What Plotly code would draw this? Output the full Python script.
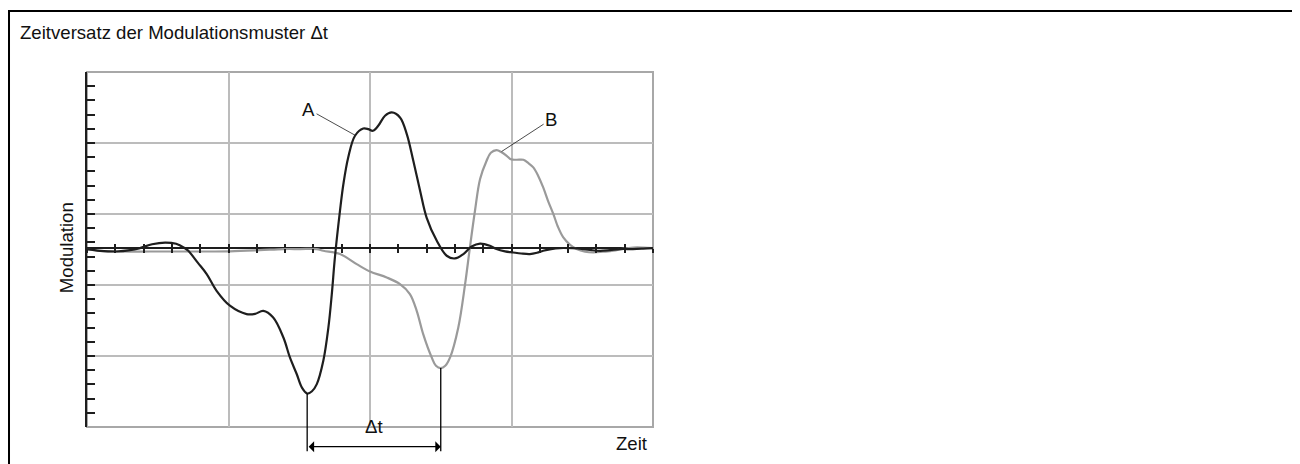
import plotly.graph_objects as go

# ---- data (time units: one minor tick = 1; modulation units: one minor tick = 1) ----
time_a = [0, 0.46, 1.05, 1.52, 1.87, 2.30, 2.76, 3.15, 3.45, 3.58, 3.92, 4.23, 4.58, 5.05, 5.64,
          5.94, 6.23, 6.58, 6.94, 7.17, 7.41, 7.60, 7.78, 7.95, 8.12, 8.35, 8.53, 8.65, 8.76, 8.94,
          9.06, 9.23, 9.47, 9.76, 9.94, 10.10, 10.29, 10.53, 10.77, 11.06, 11.30, 11.53, 11.77,
          12.00, 12.36, 12.71, 13.00, 13.30, 13.59, 13.89, 14.24, 14.47, 14.77, 15.06, 15.34,
          15.65, 15.90, 16.12, 16.40, 16.71, 17.14, 17.54, 17.84, 18.13, 18.48, 18.83, 19.29,
          19.65, 20.0]
mod_a = [-0.07, -0.19, -0.24, -0.15, 0.0, 0.27, 0.39, 0.30, 0.0, -0.19, -1.04, -1.83, -3.01, -4.06, -4.65,
         -4.63, -4.42, -4.89, -6.30, -7.70, -8.87, -9.85, -10.24, -10.08, -9.58, -7.94, -5.59, -3.24, -0.66, 2.63,
         4.51, 6.38, 7.91, 8.42, 8.38, 8.26, 8.61, 9.32, 9.55, 9.20, 8.03, 6.15, 4.04,
         2.15, 0.51, -0.54, -0.73, -0.42, 0.11, 0.32, 0.16, -0.07, -0.23, -0.31, -0.38,
         -0.42, -0.33, -0.19, -0.07, 0.0, -0.01, -0.07, -0.15, -0.19, -0.14, -0.07, -0.07,
         -0.04, 0.0]

time_b = [0, 0.46, 1.17, 2.23, 3.64, 5.05, 6.11, 6.93, 7.53, 8.12, 8.35, 8.94, 9.53, 10.0, 10.59,
          11.06, 11.41, 11.65, 11.88, 12.18, 12.33, 12.50, 12.66, 12.83, 13.12, 13.36, 13.53, 13.71, 13.89,
          14.12, 14.27, 14.47, 14.65, 14.83, 14.98, 15.18, 15.42, 15.58, 15.77, 15.94, 16.12,
          16.29, 16.48, 16.64, 16.83, 17.07, 17.30, 17.60, 17.89, 18.23, 18.60, 18.94, 19.30,
          19.65, 20.0]
mod_b = [-0.10, -0.19, -0.24, -0.24, -0.24, -0.23, -0.15, -0.07, -0.07, -0.07, -0.19, -0.42, -1.13, -1.65, -2.07,
         -2.54, -3.24, -4.42, -6.06, -7.70, -8.29, -8.45, -8.29, -7.70, -5.59, -2.54, 0.04, 2.63, 4.86,
         6.15, 6.71, 6.90, 6.75, 6.50, 6.25, 6.22, 6.22, 6.01, 5.68, 5.10, 4.27,
         3.33, 2.39, 1.50, 0.75, 0.23, -0.07, -0.26, -0.31, -0.26, -0.19, -0.05, 0.04,
         0.04, 0.0]

x_range = [0, 20]
y_range = [-12.6, 12.4]

title_text = "Zeitversatz der Modulationsmuster Δt"
x_title = "Zeit"
y_title = "Modulation"
label_a = "A"
label_b = "B"
label_dt = "Δt"

FONT = "Liberation Sans, Arial, sans-serif"
FS = 18.6
GRID = "#bcbcbc"
DARK = "#1e1e1e"

ia = mod_a.index(min(mod_a))
ib = mod_b.index(min(mod_b))
tmin_a, vmin_a = time_a[ia], mod_a[ia]
tmin_b, vmin_b = time_b[ib], mod_b[ib]

fig = go.Figure()

fig.add_trace(go.Scatter(x=time_b, y=mod_b, mode="lines",
                         line=dict(color="#9a9a9a", width=2.2, shape="spline", smoothing=1.0),
                         hoverinfo="skip", showlegend=False))
fig.add_trace(go.Scatter(x=time_a, y=mod_a, mode="lines",
                         line=dict(color=DARK, width=2.2, shape="spline", smoothing=1.0),
                         hoverinfo="skip", showlegend=False))
# invisible helpers so the tick-axes on the zero line are drawn
for ax_id in ["x2", "x3"]:
    fig.add_trace(go.Scatter(x=time_a, y=mod_a, xaxis=ax_id, yaxis="y", mode="markers",
                             marker=dict(opacity=0), hoverinfo="skip", showlegend=False))

zero_pos = (0 - y_range[0]) / (y_range[1] - y_range[0])

fig.update_layout(
    width=1300, height=464,
    margin=dict(l=79, r=655, t=64, b=45),
    paper_bgcolor="white", plot_bgcolor="white",
    font=dict(family=FONT, size=FS, color="#111"),
    xaxis=dict(range=x_range, tick0=0, dtick=5, showgrid=True, gridcolor=GRID, gridwidth=2,
               showticklabels=False, ticks="", zeroline=False, showline=False, fixedrange=True),
    xaxis2=dict(range=x_range, overlaying="x", anchor="free", position=zero_pos, tick0=0, dtick=1,
                ticks="outside", ticklen=4, tickwidth=1.5, tickcolor=DARK, showticklabels=False,
                showgrid=False, zeroline=False, showline=False),
    xaxis3=dict(range=x_range, overlaying="x", anchor="free", position=zero_pos, tick0=0, dtick=1,
                ticks="inside", ticklen=4, tickwidth=1.5, tickcolor=DARK, showticklabels=False,
                showgrid=False, zeroline=False, showline=False),
    yaxis=dict(range=y_range, tick0=y_range[0], dtick=5, showgrid=True, gridcolor=GRID, gridwidth=2,
               showticklabels=False, ticks="inside", ticklen=8, tickwidth=1.5, tickcolor=DARK,
               minor=dict(tick0=y_range[0], dtick=1, ticks="inside", ticklen=8, tickwidth=1.5,
                          tickcolor=DARK, showgrid=False),
               zeroline=True, zerolinecolor=DARK, zerolinewidth=1.5,
               showline=True, linecolor=DARK, linewidth=2, fixedrange=True),
)

# plot-area border and outer frame
fig.add_shape(type="rect", xref="paper", yref="paper", x0=0, x1=1, y0=0, y1=1,
              line=dict(color="#a8a8a8", width=2), layer="below")
fig.add_shape(type="rect", xref="paper", yref="paper", x0=-0.1378, x1=2.1396, y0=-0.2, y1=1.1718,
              line=dict(color="black", width=2))

# texts
fig.add_annotation(text=title_text, xref="paper", yref="paper", x=-0.1219, y=1.1113,
                   xanchor="left", yanchor="middle", showarrow=False, font=dict(size=FS))
fig.add_annotation(text=x_title, xref="paper", yref="paper", x=0.963, y=-0.0465,
                   xanchor="center", yanchor="middle", showarrow=False, font=dict(size=FS))
fig.add_annotation(text=y_title, xref="paper", yref="paper", x=-0.0359, y=0.5056, textangle=-90,
                   xanchor="center", yanchor="middle", showarrow=False, font=dict(size=FS))

# curve labels with leader lines
fig.add_annotation(text=label_a, x=9.47, y=7.95, ax=7.83, ay=9.77, axref="x", ayref="y",
                   showarrow=True, arrowhead=0, arrowwidth=0.8, arrowcolor=DARK, font=dict(size=FS))
fig.add_annotation(text=label_b, x=14.65, y=6.80, ax=16.40, ay=9.07, axref="x", ayref="y",
                   showarrow=True, arrowhead=0, arrowwidth=0.8, arrowcolor=DARK, font=dict(size=FS))

# delta t markers
y_low = -14.42
fig.add_annotation(text="", x=tmin_a, y=vmin_a, ax=tmin_a, ay=y_low, axref="x", ayref="y",
                   showarrow=True, arrowhead=0, arrowwidth=1.3, arrowcolor="black")
fig.add_annotation(text="", x=tmin_b, y=vmin_b, ax=tmin_b, ay=y_low, axref="x", ayref="y",
                   showarrow=True, arrowhead=0, arrowwidth=1.3, arrowcolor="black")
fig.add_annotation(text="", x=tmin_b, y=-0.0555, xref="x", yref="paper", ax=tmin_a, ay=0, axref="x",
                   showarrow=True, arrowhead=1, arrowside="end+start", arrowsize=1.4, arrowwidth=1.3,
                   arrowcolor="black", standoff=0, startstandoff=0)
fig.add_annotation(text=label_dt, xref="x", yref="paper", x=(tmin_a + tmin_b) / 2, y=-0.0324,
                   showarrow=False, font=dict(size=FS))

fig.write_html("out.html")
